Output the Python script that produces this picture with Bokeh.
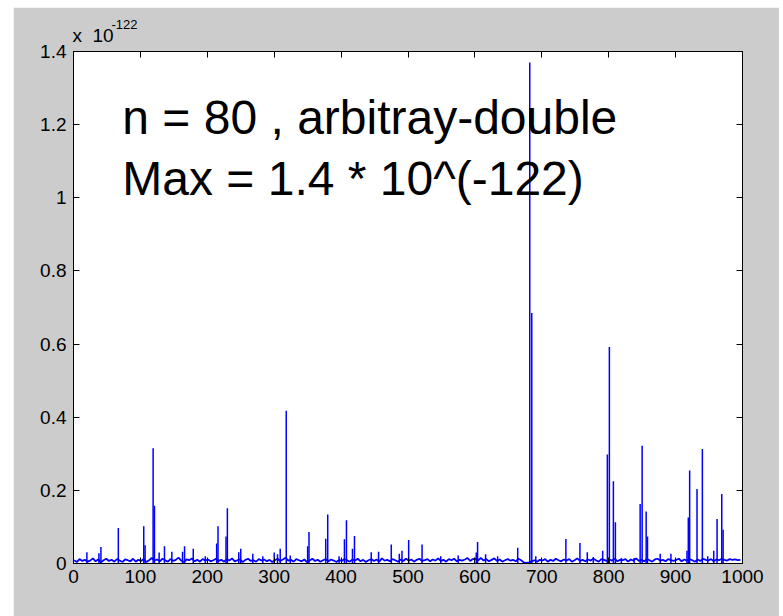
import numpy as np
from bokeh.plotting import figure
from bokeh.models import Range1d, FixedTicker, LinearAxis, Label, Title
from bokeh.embed import file_html
from bokeh.resources import INLINE

# ---------------- data (values in units of 1e-122) ----------------
x_ticks = [0, 100, 200, 300, 400, 500, 600, 700, 800, 900, 1000]
y_ticks = [0, 0.2, 0.4, 0.6, 0.8, 1.0, 1.2, 1.4]
y_tick_labels = ["0", "0.2", "0.4", "0.6", "0.8", "1", "1.2", "1.4"]

# baseline level (thousandths of a display unit), sampled every 4 indices from 1 to 997
baseline_milli = [
    9, 4, 12, 7, 10, 5, 8, 14, 6, 11, 3, 9, 13, 7, 10, 5, 12, 8, 4, 11, 9, 6, 13, 5, 10,
    7, 12, 4, 9, 15, 8, 11, 6, 13, 9, 5, 12, 7, 10, 16, 8, 4, 11, 9, 14, 6, 10, 5, 12, 8,
    11, 6, 9, 13, 7, 10, 5, 12, 8, 14, 6, 9, 11, 4, 10, 13, 7, 9, 5, 12, 8, 11, 6, 10, 4,
    9, 13, 7, 11, 16, 8, 10, 5, 12, 9, 6, 11, 4, 8, 13, 7, 10, 5, 9, 12, 6, 11, 8, 4, 10,
    7, 12, 9, 5, 11, 8, 13, 6, 10, 4, 9, 12, 7, 11, 5, 14, 8, 10, 6, 12, 9, 5, 11, 7, 13,
    8, 11, 5, 10, 13, 7, 9, 12, 6, 11, 8, 14, 7, 10, 5, 12, 9, 13, 6, 10, 8, 11, 15, 7, 12,
    13, 9, 15, 8, 12, 6, 10, 14, 7, 11, 5, 9, 12, 8, 10, 6, 13, 9, 3, 2, 3, 6, 9, 5, 10,
    8, 12, 5, 10, 7, 13, 9, 6, 11, 8, 12, 5, 9, 14, 7, 10, 6, 11, 8, 13, 9, 5, 12, 10, 7,
    11, 8, 13, 6, 10, 9, 12, 5, 11, 8, 14, 7, 10, 6, 12, 9, 5, 11, 13, 8, 10, 6, 12, 9, 7,
    10, 13, 6, 11, 8, 12, 9, 5, 11, 7, 13, 10, 8, 12, 6, 11, 9, 13, 10, 8, 12, 10, 11, 9, 10,
]
baseline_x = np.arange(1, 1000, 4)

# spikes: sample index and peak value
spike_x = [20, 38, 41, 67, 105, 107, 119, 121, 128, 136, 147, 163, 166, 179, 197,
           214, 216, 228, 230, 247, 250, 268, 283, 300, 305, 309, 318, 324, 350, 352,
           377, 380, 397, 405, 408, 417, 420, 445, 456, 475, 487, 491, 501, 521, 549,
           575, 602, 604, 616, 634, 664, 682, 685, 691, 736, 757, 768, 777, 791, 798,
           801, 807, 810, 819, 838, 847, 850, 856, 858, 877, 893, 917, 919, 921, 932,
           940, 948, 957, 962, 969, 971]
spike_y = [0.031, 0.028, 0.045, 0.097, 0.102, 0.050, 0.315, 0.158, 0.030, 0.047, 0.032, 0.032, 0.047, 0.040, 0.020,
           0.055, 0.102, 0.074, 0.151, 0.031, 0.040, 0.027, 0.020, 0.030, 0.025, 0.040, 0.418, 0.022, 0.047, 0.086,
           0.068, 0.134, 0.020, 0.066, 0.118, 0.040, 0.075, 0.031, 0.032, 0.052, 0.027, 0.035, 0.064, 0.052, 0.020,
           0.022, 0.030, 0.059, 0.025, 0.020, 0.043, 1.370, 0.685, 0.020, 0.067, 0.056, 0.031, 0.018, 0.035, 0.298,
           0.592, 0.225, 0.113, 0.015, 0.015, 0.163, 0.322, 0.142, 0.074, 0.027, 0.027, 0.035, 0.126, 0.254, 0.204,
           0.313, 0.020, 0.035, 0.122, 0.190, 0.092]

baseline_y = np.array(baseline_milli) / 1000.0

# ---------------- figure ----------------
FONT = "Liberation Sans"
BLUE = "#0000ff"

p = figure(width=766, height=609, output_backend="svg", toolbar_location=None,
           x_range=Range1d(0, 1000), y_range=Range1d(0, 1.4),
           min_border_left=60, min_border_right=37, min_border_top=44, min_border_bottom=53,
           x_axis_location=None, y_axis_location=None)
p.margin = (7, 0, 0, 13)
p.border_fill_color = "#cccccc"
p.background_fill_color = "white"
p.outline_line_color = "black"
p.outline_line_width = 1
p.xgrid.visible = False
p.ygrid.visible = False


def style_axis(ax, ticks, show_labels):
    ax.ticker = FixedTicker(ticks=ticks)
    ax.major_tick_in = 6
    ax.major_tick_out = 0
    ax.minor_tick_line_color = None
    ax.axis_line_color = "black"
    ax.major_tick_line_color = "black"
    ax.major_label_text_font = FONT
    if show_labels:
        ax.major_label_text_font_size = "19px"
        ax.major_label_text_color = "black"
    else:
        ax.major_label_text_font_size = "1px"
        ax.major_label_text_color = None
        ax.major_label_standoff = 0


xb = LinearAxis()
style_axis(xb, x_ticks, True)
xb.major_label_standoff = 6
p.add_layout(xb, "below")

yl = LinearAxis()
style_axis(yl, y_ticks, True)
yl.major_label_standoff = 7
yl.major_label_overrides = dict(zip(y_ticks, y_tick_labels))
p.add_layout(yl, "left")

xa = LinearAxis()
style_axis(xa, x_ticks, False)
p.add_layout(xa, "above")

yr = LinearAxis()
style_axis(yr, y_ticks, False)
p.add_layout(yr, "right")

# exponent label above the axes (stacked titles: base, then superscript)
p.add_layout(Title(text="x\u00a0\u00a010", align="left", offset=-1, standoff=12,
                   text_font=FONT, text_font_size="19px", text_font_style="normal",
                   text_color="black"), "above")
p.add_layout(Title(text="-122", align="left", offset=38, standoff=-25,
                   text_font=FONT, text_font_size="13px", text_font_style="normal",
                   text_color="black"), "above")

# data
p.line(baseline_x, baseline_y, line_color=BLUE, line_width=1.8)
p.segment(x0=spike_x, y0=[0] * len(spike_x), x1=spike_x, y1=spike_y,
          line_color=BLUE, line_width=1.5)

# annotation text
p.add_layout(Label(x=73, y=1.219, text="n = 80 , arbitray-double",
                   text_font=FONT, text_font_size="48px", text_color="black",
                   text_baseline="alphabetic"))
p.add_layout(Label(x=73, y=1.052, text="Max = 1.4 * 10^(-122)",
                   text_font=FONT, text_font_size="48px", text_color="black",
                   text_baseline="alphabetic"))

open("out.html", "w").write(file_html(p, INLINE))
